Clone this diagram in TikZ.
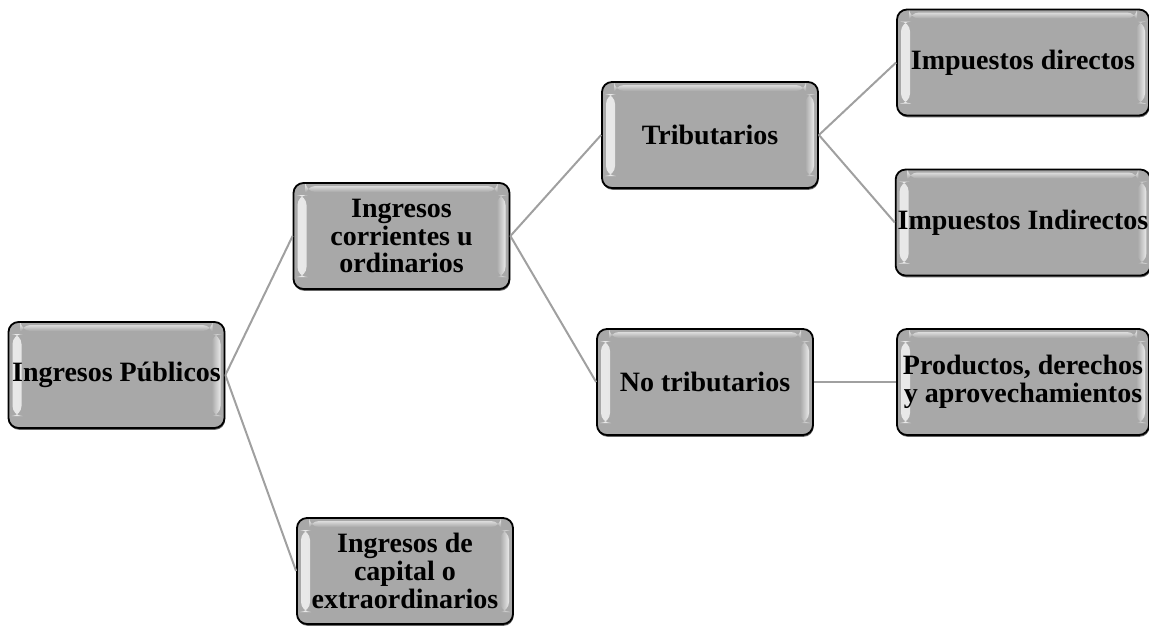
\documentclass[tikz,border=0pt]{standalone}
\usepackage{fontspec}
\setmainfont{Liberation Serif}
\usetikzlibrary{shadows}
\definecolor{boxgray}{RGB}{168,168,168}
\definecolor{linegray}{RGB}{160,160,160}
\tikzset{
  box/.style={draw=black, line width=0.9pt, rounded corners=5pt, fill=boxgray,
    minimum width=108pt, minimum height=53pt, align=center, inner sep=1pt,
    font=\bfseries\fontsize{14}{13.8}\selectfont,
    drop shadow={shadow xshift=0.3pt, shadow yshift=-0.9pt, fill=black!60, opacity=1},
    path picture={
      \shade[left color=white!85!boxgray, right color=boxgray, opacity=0.9]
        ([xshift=2pt,yshift=6pt]path picture bounding box.south west) rectangle
        ([xshift=6.5pt,yshift=-6pt]path picture bounding box.north west);
      \shade[right color=white!85!boxgray, left color=boxgray, opacity=0.9]
        ([xshift=-6.5pt,yshift=6pt]path picture bounding box.south east) rectangle
        ([xshift=-2pt,yshift=-6pt]path picture bounding box.north east);
      \shade[top color=white!60!boxgray, bottom color=boxgray]
        ([xshift=6pt,yshift=-4.5pt]path picture bounding box.north west) rectangle
        ([xshift=-6pt,yshift=-1.5pt]path picture bounding box.north east);
    }},
  widebox/.style={box, minimum width=126pt},
  link/.style={draw=linegray, line width=1pt}
}
\begin{document}
\begin{tikzpicture}[x=0.5pt, y=-0.5pt]
\useasboundingbox (0,0) rectangle (1149,627);
\node[box] (pub) at (116.5,375) {Ingresos Públicos};
\node[box] (cor) at (401.5,236) {Ingresos\\corrientes u\\ordinarios};
\node[box] (cap) at (405,571) {Ingresos de\\capital o\\extraordinarios};
\node[box] (tri) at (710,135) {Tributarios};
\node[box] (notri) at (705,382) {No tributarios};
\node[widebox] (dir) at (1023,62.5) {Impuestos directos};
\node[widebox] (ind) at (1023,222.5) {Impuestos Indirectos};
\node[widebox] (prod) at (1023,382) {Productos, derechos\\y aprovechamientos};
\draw[link] (pub.east) -- (cor.west);
\draw[link] (pub.east) -- (cap.west);
\draw[link] (cor.east) -- (tri.west);
\draw[link] (cor.east) -- (notri.west);
\draw[link] (tri.east) -- (dir.west);
\draw[link] (tri.east) -- (ind.west);
\draw[link] (notri.east) -- (prod.west);
\end{tikzpicture}
\end{document}
